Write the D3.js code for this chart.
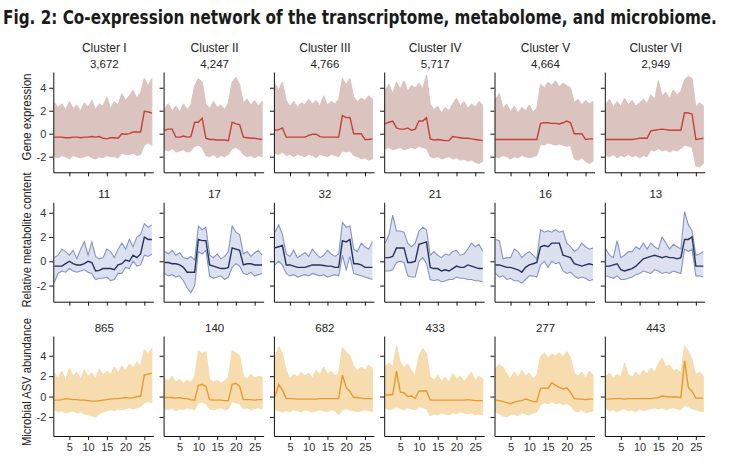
<!DOCTYPE html>
<html>
<head>
<meta charset="utf-8">
<script src="https://cdn.jsdelivr.net/npm/d3@7"></script>
<style>
  body { margin: 0; background: #fff; }
  svg text { font-family: "Liberation Sans", Arial, sans-serif; fill: #222; }
  .title { font-family: "Liberation Sans Narrow", "DejaVu Sans Condensed", "Liberation Sans", sans-serif; font-weight: bold; fill: #1a1a1a; }
  .axis path, .axis line { stroke: #111; }
  .axis text { font-size: 11px; fill: #333; }
</style>
</head>
<body>
<svg id="chart" width="732" height="462"></svg>
<script>
// column headers and cluster sizes
var clusters = ["Cluster I", "Cluster II", "Cluster III", "Cluster IV", "Cluster V", "Cluster VI"];
var geneCounts = ["3,672", "4,247", "4,766", "5,717", "4,664", "2,949"];
var metCounts = ["11", "17", "32", "21", "16", "13"];
var asvCounts = ["865", "140", "682", "433", "277", "443"];
var rowLabels = ["Gene expression", "Relative metabolite content", "Microbial ASV abundance"];
var timepoints = d3.range(1, 28);
var xTicks = [5, 10, 15, 20, 25];
var yTicks = [-2, 0, 2, 4];

// gene expression: cluster mean, upper and lower edge of the member lines
var geneMean = [
  [-0.3,-0.3,-0.3,-0.35,-0.35,-0.3,-0.3,-0.35,-0.3,-0.3,-0.25,-0.3,-0.25,-0.4,-0.45,-0.35,-0.35,-0.4,0.0,-0.05,0.0,0.15,0.15,0.15,1.95,1.9,1.8],
  [0.3,0.4,0.4,-0.3,-0.3,-0.2,-0.3,-0.25,1.0,1.0,1.35,-0.4,-0.5,-0.5,-0.55,-0.55,-0.55,-0.6,1.0,0.85,0.8,-0.3,-0.35,-0.4,-0.4,-0.45,-0.5],
  [0.3,0.35,0.5,-0.3,-0.3,-0.3,-0.3,-0.3,-0.3,-0.15,-0.05,-0.05,-0.25,-0.3,-0.3,-0.3,-0.3,-0.3,1.57,1.4,1.42,0.0,0.0,0.0,-0.5,-0.5,-0.45],
  [0.85,1.0,1.1,0.5,0.4,0.4,0.5,0.3,0.4,1.1,1.1,1.4,-0.45,-0.55,-0.5,-0.55,-0.6,-0.6,-0.25,-0.3,-0.35,-0.4,-0.4,-0.45,-0.5,-0.55,-0.6],
  [-0.5,-0.5,-0.5,-0.5,-0.5,-0.5,-0.5,-0.5,-0.5,-0.5,-0.5,-0.5,0.9,0.95,0.95,0.9,0.9,0.85,0.95,1.1,0.95,0.0,0.0,0.0,-0.5,-0.45,-0.45],
  [-0.5,-0.5,-0.5,-0.5,-0.5,-0.5,-0.5,-0.5,-0.45,-0.4,-0.4,-0.4,0.25,0.3,0.35,0.4,0.35,0.3,0.3,0.3,0.3,1.83,1.8,1.7,-0.5,-0.45,-0.4]
];
var geneUpper = [
  [2.7,2.3,2.6,2.1,2.8,2.2,2.5,2.0,2.7,2.3,2.9,2.1,2.6,2.4,3.2,2.2,2.8,2.5,3.5,2.9,3.3,3.8,3.1,3.6,4.8,4.2,4.8],
  [2.2,2.6,2.0,2.4,1.9,2.6,2.1,2.5,4.2,4.8,4.5,2.6,2.2,2.8,2.3,2.5,2.1,2.7,4.5,4.9,4.3,2.7,3.0,2.5,2.9,2.4,2.8],
  [4.4,3.8,4.5,2.9,2.4,2.8,2.3,2.7,2.5,3.0,2.6,2.9,2.4,3.3,2.5,2.8,2.6,3.0,4.8,4.3,4.8,3.2,2.8,3.1,2.9,3.3,3.0],
  [3.8,4.3,3.5,4.5,3.9,4.6,3.7,4.2,4.0,4.4,3.9,5.1,2.6,2.1,2.4,1.8,2.3,2.0,2.6,3.1,2.4,2.8,2.2,2.6,2.3,2.8,2.5],
  [3.0,3.5,2.2,2.6,1.9,2.4,1.8,2.3,2.0,2.5,1.9,2.2,4.3,4.0,4.5,4.2,4.6,4.1,4.4,4.2,4.0,2.7,3.0,2.5,2.9,2.6,2.8],
  [2.6,3.0,2.3,2.8,2.4,3.1,2.5,2.9,2.4,2.7,3.0,2.6,3.4,3.0,4.6,3.3,3.6,3.1,3.8,3.4,3.7,4.7,5.0,4.8,2.3,2.7,2.4]
];
var geneLower = [
  [-2.0,-2.1,-1.9,-2.0,-2.2,-1.9,-2.0,-2.1,-2.0,-1.9,-2.1,-2.2,-2.0,-2.1,-1.9,-2.0,-2.0,-2.1,-1.7,-1.8,-1.8,-1.7,-1.9,-1.8,-1.0,-0.8,-1.0],
  [-1.4,-1.5,-1.3,-1.6,-1.5,-1.4,-1.6,-1.5,-1.1,-1.0,-1.2,-1.9,-2.0,-1.8,-2.1,-1.9,-2.0,-1.8,-1.3,-1.2,-1.4,-1.8,-2.0,-1.9,-2.1,-1.9,-2.0],
  [-1.7,-1.8,-1.6,-1.9,-1.8,-2.0,-1.8,-1.9,-2.0,-1.8,-1.9,-2.1,-1.8,-1.9,-2.0,-1.8,-1.9,-2.0,-1.5,-1.6,-1.5,-1.9,-2.0,-2.2,-2.1,-2.3,-2.2],
  [-1.3,-1.2,-1.4,-1.3,-1.2,-1.4,-1.3,-1.2,-1.3,-1.1,-1.2,-1.3,-2.0,-2.1,-2.0,-2.2,-2.1,-2.0,-2.2,-2.1,-2.3,-2.2,-2.4,-2.3,-2.5,-2.6,-2.4],
  [-2.0,-2.1,-1.9,-2.0,-2.2,-2.0,-2.1,-1.9,-2.0,-2.1,-2.0,-1.9,-0.9,-1.0,-0.8,-0.9,-1.0,-0.9,-1.0,-1.1,-1.0,-2.2,-2.3,-2.1,-2.4,-2.6,-2.4],
  [-1.9,-2.0,-1.8,-2.1,-1.9,-2.0,-1.8,-2.0,-1.9,-2.1,-1.9,-2.0,-1.4,-1.5,-1.3,-1.5,-1.4,-1.6,-1.4,-1.5,-1.3,-1.0,-1.1,-1.2,-2.8,-2.9,-2.6]
];

// metabolites
var metMean = [
  [-0.4,-0.4,-0.4,-0.2,0.0,-0.2,-0.3,-0.3,-0.2,0.0,-0.1,-0.8,-0.75,-0.6,-0.6,-0.6,-0.7,-0.3,-0.2,0.1,0.0,0.5,0.3,0.6,2.0,1.8,1.8],
  [-0.1,-0.1,-0.2,-0.2,-0.3,-0.5,-0.9,-0.9,-0.9,1.8,1.7,1.7,-0.3,-0.4,-0.5,-0.6,-0.6,-0.5,1.1,1.0,0.9,-0.3,-0.2,-0.2,-0.3,-0.3,-0.3],
  [1.1,1.2,1.3,-0.3,-0.3,-0.4,-0.5,-0.5,-0.5,-0.4,-0.3,-0.3,-0.3,-0.35,-0.4,-0.4,-0.5,-0.5,1.7,1.6,1.8,-0.2,-0.2,-0.3,-0.5,-0.5,-0.5],
  [0.3,0.3,0.4,1.1,1.1,1.1,-0.1,-0.1,0.0,1.4,1.5,1.6,-0.5,-0.6,-0.6,-0.8,-0.7,-0.8,-0.6,-0.4,-0.5,-0.5,-0.3,-0.4,-0.5,-0.6,-0.6],
  [-0.3,-0.3,-0.4,-0.5,-0.5,-0.6,-0.7,-0.9,-0.5,-0.3,-0.2,-0.1,1.2,1.3,1.2,1.5,1.5,1.5,0.5,0.4,0.3,-0.2,-0.3,-0.4,-0.3,-0.2,-0.3],
  [-0.4,-0.4,-0.3,-0.2,-0.7,-0.8,-0.7,-0.6,-0.4,-0.1,0.2,0.3,0.4,0.5,0.4,0.3,0.4,0.3,0.3,0.2,0.3,1.8,1.8,2.0,-0.4,-0.4,-0.4]
];
var metUpper = [
  [0.3,0.5,1.0,0.8,0.5,0.9,0.2,1.0,1.6,0.5,1.6,0.4,0.2,0.3,1.0,0.8,0.3,1.0,1.5,1.0,1.8,1.2,2.0,2.2,3.1,2.8,3.0],
  [0.8,0.6,0.9,0.5,0.7,0.3,0.2,0.4,0.1,2.9,2.6,2.8,0.5,0.3,0.6,0.2,0.4,0.8,2.9,2.4,2.2,0.6,0.8,0.4,0.7,0.9,0.5],
  [2.4,3.0,2.2,0.6,0.4,0.9,0.3,0.5,0.7,0.4,1.0,0.6,0.3,0.5,0.9,0.6,0.4,0.6,3.2,2.8,2.9,1.0,0.8,1.5,1.2,1.0,1.6],
  [1.5,2.2,3.8,2.5,2.5,2.4,1.5,1.2,1.5,2.5,2.8,2.6,0.5,0.8,0.5,0.3,0.6,0.5,0.8,0.9,0.5,0.6,1.0,1.5,1.2,1.4,0.8],
  [1.8,1.7,0.2,0.3,0.3,1.0,0.8,0.3,0.6,0.8,0.5,0.2,2.6,2.4,2.5,2.4,2.6,2.4,2.5,1.5,1.2,0.8,1.0,1.5,1.2,1.0,1.1],
  [1.0,0.5,0.3,1.7,0.3,0.5,0.8,0.8,1.2,1.0,1.5,1.0,1.5,1.2,1.0,2.0,1.5,1.0,1.4,1.2,1.0,4.1,3.0,2.5,0.5,0.6,0.8]
];
var metLower = [
  [-1.7,-1.0,-0.8,-0.9,-0.6,-0.8,-0.9,-0.8,-0.7,-0.9,-1.0,-1.5,-1.4,-1.4,-1.3,-1.6,-1.5,-1.0,-1.0,-0.5,-0.6,0.0,-0.4,-0.3,0.5,0.4,0.6],
  [-1.0,-1.2,-1.1,-1.3,-1.2,-1.6,-2.2,-2.6,-2.0,0.8,0.6,0.9,-1.2,-1.4,-1.3,-1.2,-1.5,-1.3,-0.5,-0.2,-0.4,-1.0,-1.1,-0.9,-1.2,-1.1,-1.0],
  [-0.3,0.0,-0.3,-1.0,-1.2,-1.1,-1.3,-1.2,-1.1,-1.2,-1.0,-1.1,-1.2,-1.1,-1.3,-1.2,-1.1,-1.2,0.5,-0.7,0.4,-1.0,-1.1,-1.2,-1.3,-1.4,-1.5],
  [-0.8,-0.8,-0.7,-0.1,0.0,-0.1,-1.2,-1.3,-1.3,0.0,0.3,-0.2,-1.5,-1.6,-1.5,-1.7,-1.6,-1.5,-1.5,-1.3,-1.4,-1.4,-1.5,-1.5,-1.6,-1.6,-1.7],
  [-1.0,-1.3,-1.2,-1.5,-1.4,-1.6,-1.6,-1.8,-1.5,-1.2,-1.2,-1.3,-0.3,0.0,-0.5,0.0,-0.2,-0.1,-0.8,-1.0,-0.9,-1.2,-1.4,-1.3,-1.4,-1.6,-1.5],
  [-1.2,-1.3,-1.4,-1.2,-1.5,-1.5,-1.4,-1.3,-1.1,-1.0,-0.8,-0.9,-1.0,-0.7,-0.8,-1.0,-0.9,-1.0,-0.8,-0.9,-1.0,1.0,0.8,1.0,-1.2,-1.2,-1.3]
];

// microbial ASVs
var asvMean = [
  [-0.35,-0.35,-0.3,-0.2,-0.25,-0.3,-0.3,-0.35,-0.35,-0.4,-0.45,-0.45,-0.4,-0.35,-0.3,-0.25,-0.2,-0.2,-0.15,-0.1,-0.15,-0.1,0.0,0.0,2.1,2.2,2.3],
  [-0.1,-0.1,-0.1,-0.15,-0.1,-0.2,-0.2,-0.3,-0.35,1.1,1.2,1.0,-0.3,-0.35,-0.35,-0.35,-0.4,-0.4,1.2,1.3,1.0,-0.3,-0.3,-0.3,-0.35,-0.3,-0.3],
  [0.0,1.2,0.6,-0.2,-0.2,-0.2,-0.25,-0.25,-0.25,-0.25,-0.25,-0.25,-0.2,-0.2,-0.2,-0.2,-0.2,-0.2,2.1,0.9,0.5,-0.1,-0.1,-0.15,-0.2,-0.2,-0.2],
  [0.15,0.15,0.2,2.5,0.45,0.35,0.0,0.05,-0.2,0.55,0.55,0.55,-0.35,-0.35,-0.35,-0.35,-0.35,-0.35,-0.35,-0.35,-0.35,-0.35,-0.3,-0.35,-0.4,-0.4,-0.4],
  [-0.35,-0.4,-0.5,-0.6,-0.7,-0.55,-0.45,-0.4,-0.25,-0.35,-0.5,-0.5,0.8,0.85,0.8,1.35,1.1,0.9,0.75,0.85,0.4,-0.2,-0.25,-0.25,-0.3,-0.25,-0.25],
  [-0.25,-0.25,-0.2,-0.2,-0.2,-0.25,-0.2,-0.2,-0.2,-0.2,-0.2,-0.2,-0.2,-0.15,-0.1,0.05,0.0,-0.05,-0.05,-0.05,-0.1,3.5,0.9,0.5,-0.15,-0.15,-0.15]
];
var asvUpper = [
  [2.3,1.8,2.5,1.6,2.8,2.0,2.4,1.7,2.6,2.0,2.3,1.8,2.7,2.1,2.5,2.2,2.9,2.3,3.0,2.6,3.2,2.8,3.4,3.0,4.6,4.2,4.7],
  [1.8,1.5,2.0,1.4,1.7,1.3,1.6,1.4,1.9,4.5,4.2,4.4,1.7,1.4,1.6,1.3,1.5,1.9,4.5,4.3,4.0,2.0,1.7,2.2,1.8,2.0,1.9],
  [3.8,4.9,4.2,2.5,1.8,2.2,1.9,2.4,2.0,2.3,1.8,2.6,2.1,2.9,2.2,2.5,2.0,2.3,4.8,4.4,4.0,3.0,2.5,2.9,2.6,3.1,2.7],
  [3.0,3.3,2.9,5.0,3.4,2.8,3.2,2.5,2.1,4.0,4.7,4.2,2.0,1.6,2.1,1.5,1.9,1.4,2.3,1.7,2.0,1.5,1.9,2.4,1.6,2.0,1.7],
  [2.8,3.1,2.9,2.2,1.8,2.4,1.9,2.6,2.0,2.3,1.7,2.1,3.9,4.3,3.8,4.2,4.0,4.3,3.9,4.4,3.8,2.3,2.0,2.4,1.8,2.5,2.1],
  [2.0,2.3,1.8,2.2,1.9,3.3,2.1,1.9,2.4,2.0,2.6,2.2,2.8,2.4,3.2,3.8,2.9,3.1,2.5,2.7,2.3,5.0,4.4,3.6,2.1,2.4,2.0]
];
var asvLower = [
  [-1.3,-1.5,-1.4,-1.6,-1.5,-1.4,-1.6,-1.5,-1.7,-1.8,-1.9,-2.0,-1.7,-1.5,-1.4,-1.3,-1.4,-1.2,-1.3,-1.2,-1.1,-1.2,-1.1,-1.0,-0.6,-0.5,-0.6],
  [-1.2,-1.3,-1.1,-1.4,-1.2,-1.3,-1.1,-1.2,-1.3,-0.6,-0.5,-0.7,-1.2,-1.3,-1.2,-1.1,-1.3,-1.2,-0.5,-0.6,-0.7,-1.2,-1.1,-1.3,-1.2,-1.1,-1.2],
  [-1.3,-1.4,-1.5,-1.4,-1.5,-1.3,-1.4,-1.5,-1.3,-1.4,-1.5,-1.4,-1.3,-1.4,-1.5,-1.3,-1.4,-1.8,-1.3,-1.2,-1.3,-1.4,-1.5,-1.4,-1.3,-1.4,-1.5],
  [-1.1,-1.3,-1.2,-1.0,-1.2,-1.3,-1.1,-1.2,-1.3,-1.0,-1.1,-1.2,-1.9,-1.7,-1.8,-1.6,-1.7,-1.8,-1.6,-1.7,-1.5,-1.6,-1.7,-1.6,-1.8,-1.7,-1.8],
  [-1.5,-1.7,-1.9,-2.0,-1.8,-1.7,-1.9,-1.6,-1.7,-1.8,-1.6,-1.5,-0.8,-0.6,-0.7,-0.5,-0.7,-0.6,-0.8,-0.7,-0.9,-1.4,-1.5,-1.3,-1.6,-1.5,-1.4],
  [-1.2,-1.4,-1.3,-1.5,-1.3,-1.2,-1.4,-1.3,-1.5,-1.2,-1.4,-1.3,-1.2,-1.1,-1.2,-1.1,-1.3,-1.2,-1.1,-1.2,-1.3,-0.8,-1.0,-1.2,-1.3,-1.4,-1.5]
];

var svg = d3.select("#chart");

// title: squeeze horizontally so it fits the page width
let title = svg.append("text")
  .attr("class", "title")
  .attr("font-size", 19)
  .text("Fig. 2: Co-expression network of the transcriptome, metabolome, and microbiome.");
let tw = title.node().getComputedTextLength();
title.attr("transform", "translate(3,24) scale(" + Math.min(1, 714 / tw) + ",1)");

// one config per row: plot area, y domain, colours, label box
var rows = [
  { top: 72, bottom: 172.3, domain: [-3.36, 5.37], mean: geneMean, upper: geneUpper, lower: geneLower,
    counts: geneCounts, band: "#dbc3bf", line: "#c4403a", labelY: 117, labelW: 87, kind: "band" },
  { top: 202.3, bottom: 301.7, domain: [-3.33, 4.86], mean: metMean, upper: metUpper, lower: metLower,
    counts: metCounts, band: "#8594c7", line: "#28315e", labelY: 240, labelW: 135, kind: "lines" },
  { top: 336, bottom: 436, domain: [-3.87, 5.94], mean: asvMean, upper: asvUpper, lower: asvLower,
    counts: asvCounts, band: "#f6dcae", line: "#e99a2c", labelY: 382, labelW: 128, kind: "band" }
];

var colStep = 110.3, firstLeft = 53.3, plotW = 100;

rows.forEach(function(row, r) {
  let y = d3.scaleLinear().domain(row.domain).range([row.bottom, row.top]);

  svg.append("text")
    .attr("transform", "translate(31," + row.labelY + ") rotate(-90)")
    .attr("text-anchor", "middle")
    .attr("font-size", 12)
    .attr("textLength", row.labelW).attr("lengthAdjust", "spacingAndGlyphs")
    .text(rowLabels[r]);

  clusters.forEach(function(name, c) {
    let left = firstLeft + c * colStep;
    let x = d3.scaleLinear().domain([0.72, 27.39]).range([left, left + plotW]);
    let g = svg.append("g");

    if (r === 0) {
      g.append("text")
        .attr("x", left + 51).attr("y", 52)
        .attr("text-anchor", "middle")
        .attr("font-size", 12)
        .text(name);
    }
    g.append("text")
      .attr("x", left + 51).attr("y", row.top - 4.5)
      .attr("text-anchor", "middle")
      .attr("font-size", 11.5)
      .text(row.counts[c]);

    let pts = timepoints.map((t, i) => ({ t: t, lo: row.lower[c][i], hi: row.upper[c][i], m: row.mean[c][i] }));

    let area = d3.area()
      .x(d => x(d.t))
      .y0(d => y(d.lo))
      .y1(d => y(d.hi));

    if (row.kind === "band") {
      g.append("path")
        .datum(pts)
        .attr("d", area)
        .attr("fill", row.band)
        .attr("stroke", row.band)
        .attr("stroke-width", 1);
    } else {
      g.append("path")
        .datum(pts)
        .attr("d", area)
        .attr("fill", row.band)
        .attr("fill-opacity", 0.28);
      ["hi", "lo"].forEach(function(k) {
        g.append("path")
          .datum(pts)
          .attr("d", d3.line().x(d => x(d.t)).y(d => y(d[k])))
          .attr("fill", "none")
          .attr("stroke", row.band)
          .attr("stroke-width", 1.1);
      });
    }

    g.append("path")
      .datum(pts)
      .attr("d", d3.line().x(d => x(d.t)).y(d => y(d.m)))
      .attr("fill", "none")
      .attr("stroke", row.line)
      .attr("stroke-width", 1.4);

    // axes
    g.append("g")
      .attr("class", "axis")
      .attr("transform", "translate(" + left + ",0)")
      .call(d3.axisLeft(y).tickValues(yTicks).tickSize(4).tickSizeOuter(0)
        .tickFormat(c === 0 ? (d => String(d)) : ""));

    g.append("g")
      .attr("class", "axis")
      .attr("transform", "translate(0," + row.bottom + ")")
      .call(d3.axisBottom(x).tickValues(xTicks).tickSize(4).tickSizeOuter(0)
        .tickFormat(r === 2 ? (d => String(d)) : ""));
  });
});
</script>
</body>
</html>
